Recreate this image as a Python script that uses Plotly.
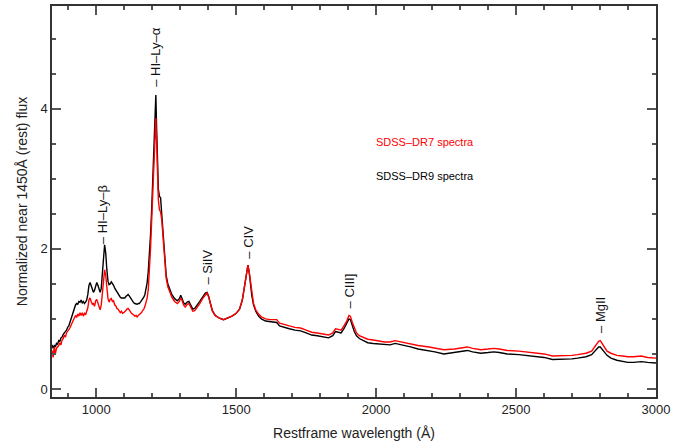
import plotly.graph_objects as go

# ---------------- data ----------------
wl_blue = [
    842, 846, 850, 854, 858, 862, 866, 870, 874, 878,
    882, 886, 890, 894, 898, 902, 906, 910, 914, 918,
    922, 926, 930, 934, 938, 942, 946, 950, 954, 958,
    962, 966, 970, 974, 978, 982, 986, 990, 994, 998,
    1002, 1006, 1010, 1014, 1018, 1022, 1026, 1030, 1034, 1038,
    1042, 1046, 1050, 1054, 1058, 1062, 1066, 1070, 1074, 1078,
    1082, 1086, 1090, 1094, 1098, 1102, 1106, 1110, 1114, 1118,
    1122, 1126, 1130, 1134, 1138, 1142, 1146, 1150, 1154, 1158,
    1162, 1166, 1170, 1174, 1178, 1182, 1186,
]
dr9_blue = [
    0.63, 0.58, 0.62, 0.60, 0.65, 0.64, 0.69, 0.68, 0.73, 0.74,
    0.78, 0.80, 0.83, 0.84, 0.88, 0.90, 0.95, 1.00, 1.06, 1.10,
    1.16, 1.20, 1.22, 1.21, 1.25, 1.24, 1.27, 1.23, 1.25, 1.22,
    1.24, 1.27, 1.35, 1.48, 1.52, 1.47, 1.43, 1.38, 1.41, 1.48,
    1.52, 1.48, 1.42, 1.38, 1.44, 1.60, 1.86, 2.06, 1.94, 1.70,
    1.54, 1.49, 1.50, 1.53, 1.51, 1.48, 1.44, 1.41, 1.38, 1.35,
    1.33, 1.31, 1.30, 1.30, 1.29, 1.30, 1.32, 1.34, 1.35, 1.33,
    1.30, 1.27, 1.25, 1.23, 1.22, 1.21, 1.21, 1.22, 1.22, 1.24,
    1.26, 1.28, 1.31, 1.35, 1.42, 1.52, 1.68,
]
dr7_blue = [
    0.55, 0.45, 0.60, 0.50, 0.58, 0.60, 0.62, 0.66, 0.63, 0.70,
    0.72, 0.77, 0.74, 0.80, 0.82, 0.85, 0.87, 0.91, 0.94, 0.99,
    1.02, 1.05, 1.02, 1.07, 1.04, 1.09, 1.05, 1.09, 1.04, 1.08,
    1.06, 1.11, 1.16, 1.27, 1.30, 1.25, 1.21, 1.22, 1.18, 1.26,
    1.28, 1.23, 1.18, 1.13, 1.20, 1.34, 1.56, 1.70, 1.62, 1.43,
    1.29, 1.24, 1.28, 1.29, 1.25, 1.26, 1.20, 1.19, 1.15, 1.14,
    1.12, 1.09, 1.11, 1.08, 1.09, 1.10, 1.12, 1.14, 1.15, 1.13,
    1.10, 1.08, 1.07, 1.05, 1.04, 1.05, 1.03, 1.05, 1.06, 1.07,
    1.09, 1.12, 1.14, 1.18, 1.23, 1.30, 1.42,
]

wl_red = [
    1190, 1194, 1198, 1202, 1206, 1210, 1213, 1216, 1219, 1222,
    1226, 1230, 1234, 1238, 1242, 1246, 1250, 1256, 1263, 1270,
    1280, 1290, 1297, 1302, 1307, 1312, 1318, 1325, 1331, 1337,
    1345, 1352, 1360, 1370, 1380, 1390, 1396, 1402, 1408, 1415,
    1425, 1440, 1455, 1470, 1485, 1500, 1512, 1522, 1530, 1536,
    1542, 1547, 1551, 1556, 1562, 1570, 1580, 1590, 1605, 1620,
    1635, 1645, 1655, 1670, 1690, 1710, 1730, 1750, 1770, 1790,
    1810, 1830, 1845, 1855, 1865, 1875, 1885, 1895, 1903, 1908,
    1915, 1922, 1930, 1940, 1955, 1970, 1990, 2010, 2030, 2050,
    2068, 2080, 2100, 2123, 2150, 2189, 2210, 2242, 2280, 2310,
    2326, 2345, 2374, 2400, 2421, 2440, 2469, 2510, 2553, 2600,
    2630, 2660, 2700, 2720, 2750, 2770, 2785, 2795, 2801, 2808,
    2815, 2825, 2839, 2860, 2880, 2899, 2920, 2947, 2970, 3000,
]
dr9_red = [
    1.90, 2.20, 2.55, 2.95, 3.40, 3.95, 4.20, 3.70, 3.20, 2.85,
    2.75, 2.73, 2.50, 2.25, 2.00, 1.78, 1.62, 1.50, 1.41, 1.35,
    1.29, 1.26, 1.29, 1.34, 1.29, 1.23, 1.21, 1.24, 1.25, 1.20,
    1.14, 1.15, 1.19, 1.25, 1.31, 1.37, 1.38, 1.32, 1.22, 1.12,
    1.05, 1.01, 0.99, 1.01, 1.04, 1.08, 1.14, 1.27, 1.45, 1.62,
    1.77, 1.65, 1.50, 1.33, 1.20, 1.11, 1.04, 1.00, 0.97, 0.96,
    0.95, 0.95, 0.90, 0.88, 0.86, 0.84, 0.83, 0.80, 0.77, 0.76,
    0.75, 0.73, 0.76, 0.82, 0.81, 0.80, 0.86, 0.93, 1.00, 0.99,
    0.90, 0.82, 0.76, 0.72, 0.69, 0.66, 0.65, 0.64, 0.63, 0.63,
    0.65, 0.64, 0.62, 0.60, 0.57, 0.55, 0.53, 0.50, 0.52, 0.54,
    0.55, 0.53, 0.51, 0.52, 0.53, 0.52, 0.50, 0.49, 0.47, 0.45,
    0.42, 0.42, 0.43, 0.44, 0.46, 0.49, 0.55, 0.60, 0.60, 0.57,
    0.53, 0.48, 0.44, 0.41, 0.39, 0.38, 0.38, 0.39, 0.38, 0.37,
]
dr7_red = [
    1.65, 2.00, 2.40, 2.80, 3.20, 3.65, 3.87, 3.50, 3.05, 2.70,
    2.56, 2.53, 2.42, 2.20, 1.97, 1.75, 1.58, 1.46, 1.37, 1.31,
    1.25, 1.22, 1.25, 1.30, 1.26, 1.20, 1.17, 1.21, 1.22, 1.17,
    1.11, 1.12, 1.16, 1.22, 1.29, 1.35, 1.37, 1.31, 1.21, 1.11,
    1.05, 1.01, 0.99, 1.01, 1.04, 1.08, 1.14, 1.27, 1.46, 1.63,
    1.77, 1.66, 1.52, 1.35, 1.22, 1.13, 1.07, 1.03, 1.00, 0.99,
    0.99, 0.99, 0.94, 0.92, 0.90, 0.88, 0.87, 0.84, 0.81, 0.80,
    0.79, 0.77, 0.80, 0.86, 0.85, 0.84, 0.90, 0.97, 1.05, 1.04,
    0.95, 0.87, 0.80, 0.76, 0.73, 0.71, 0.70, 0.68, 0.67, 0.67,
    0.69, 0.68, 0.66, 0.64, 0.62, 0.60, 0.58, 0.56, 0.57, 0.59,
    0.60, 0.58, 0.56, 0.57, 0.58, 0.57, 0.55, 0.54, 0.52, 0.50,
    0.47, 0.47, 0.48, 0.49, 0.51, 0.54, 0.62, 0.68, 0.69, 0.65,
    0.60, 0.54, 0.51, 0.48, 0.47, 0.46, 0.46, 0.47, 0.45, 0.44,
]

line_names = ["– HI–Ly–β", "– HI–Ly–α", "– SiIV", "– CIV", "– CIII]", "– MgII"]
line_wl = [1025, 1213, 1396, 1545, 1906, 2801]
line_label_base = [2.05, 4.30, 1.47, 1.85, 1.14, 0.79]

legend_texts = ["SDSS–DR7 spectra", "SDSS–DR9 spectra"]
legend_colors = ["#ff0000", "#000000"]
legend_x = 1996
legend_y = [3.53, 3.04]

x_ticks = [1000, 1500, 2000, 2500, 3000]
y_ticks = [0, 2, 4]

# ---------------- figure ----------------
wl = wl_blue + wl_red
dr9 = dr9_blue + dr9_red
dr7 = dr7_blue + dr7_red

FONT = "Liberation Sans, Arial, Helvetica, sans-serif"

fig = go.Figure()
fig.add_trace(go.Scatter(x=wl, y=dr9, mode="lines",
                         line=dict(color="#000000", width=1.4), showlegend=False))
fig.add_trace(go.Scatter(x=wl, y=dr7, mode="lines",
                         line=dict(color="#ff0000", width=1.4), showlegend=False))

for name, x, y in zip(line_names, line_wl, line_label_base):
    fig.add_annotation(x=x, y=y, text=name, textangle=-90, showarrow=False,
                       xanchor="center", yanchor="bottom", borderpad=0,
                       font=dict(family=FONT, size=13, color="#111111"))

for t, c, y in zip(legend_texts, legend_colors, legend_y):
    fig.add_annotation(x=legend_x, y=y, text=t, showarrow=False,
                       xanchor="left", yanchor="middle", borderpad=0,
                       font=dict(family=FONT, size=11, color=c))

axis_common = dict(
    showline=True, linecolor="#333333", linewidth=1.5, mirror="ticks",
    ticks="inside", tickcolor="#555555", tickwidth=1.5, ticklen=9,
    showgrid=False, zeroline=False,
    tickfont=dict(family=FONT, size=13, color="#222222"),
)

fig.update_xaxes(range=[842, 3000], tickvals=x_ticks,
                 minor=dict(ticks="inside", dtick=100, ticklen=4, tickcolor="#555555", tickwidth=1.5),
                 title=dict(text="Restframe wavelength (Å)", standoff=12,
                            font=dict(family=FONT, size=14, color="#222222")),
                 **axis_common)
fig.update_yaxes(range=[-0.115, 5.47], tickvals=y_ticks,
                 minor=dict(ticks="inside", dtick=0.5, ticklen=4, tickcolor="#555555", tickwidth=1.5),
                 title=dict(text="Normalized near 1450Å (rest) flux", standoff=10,
                            font=dict(family=FONT, size=14, color="#222222")),
                 **axis_common)

fig.update_layout(
    width=685, height=443,
    margin=dict(l=52, r=29, t=6, b=46, autoexpand=False),
    paper_bgcolor="white", plot_bgcolor="white",
    font=dict(family=FONT),
)

fig.write_html("out.html")
